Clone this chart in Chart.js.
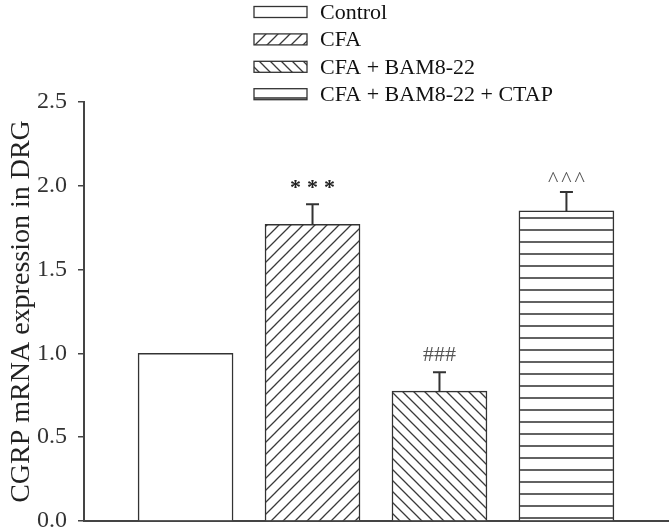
<!DOCTYPE html>
<html>
<head>
<meta charset="utf-8">
<script src="https://cdn.jsdelivr.net/npm/chart.js@4.4.0/dist/chart.umd.min.js"></script>
<style>
  html, body { margin: 0; padding: 0; background: #fff; }
</style>
</head>
<body>
<canvas id="chart" width="670" height="532"></canvas>
<script>
const groups = ['Control', 'CFA', 'CFA + BAM8-22', 'CFA + BAM8-22 + CTAP'];
const means = [1.0, 1.77, 0.775, 1.85];
const errors = [0, 0.12, 0.113, 0.113];
const marks = ['', '***', '###', '^^^'];
const hatches = ['none', 'fwd', 'back', 'horiz'];

const canvas = document.getElementById('chart');
const mainCtx = canvas.getContext('2d');

// build a fill pattern for each bar
function makePattern(kind) {
  if (kind === 'none') return '#ffffff';
  const s = kind === 'back' ? 11 : 12;
  const c = document.createElement('canvas');
  c.width = s;
  c.height = s;
  const g = c.getContext('2d');
  g.fillStyle = '#fff';
  g.fillRect(0, 0, s, s);
  g.strokeStyle = '#3a3a3a';
  g.lineWidth = 1.3;
  g.beginPath();
  if (kind === 'fwd') {
    g.moveTo(0, s); g.lineTo(s, 0);
    g.moveTo(-s / 2, s / 2); g.lineTo(s / 2, -s / 2);
    g.moveTo(s / 2, s * 1.5); g.lineTo(s * 1.5, s / 2);
  } else if (kind === 'back') {
    g.moveTo(0, 0); g.lineTo(s, s);
    g.moveTo(-s / 2, s / 2); g.lineTo(s / 2, s * 1.5);
    g.moveTo(s / 2, -s / 2); g.lineTo(s * 1.5, s / 2);
  } else {
    g.lineWidth = 1.6;
    g.moveTo(0, 2); g.lineTo(s, 2);
  }
  g.stroke();
  return mainCtx.createPattern(c, 'repeat');
}
const fills = hatches.map(makePattern);

const extras = {
  id: 'extras',
  afterDatasetsDraw(chart) {
    const { ctx, scales: { x, y } } = chart;
    ctx.save();
    means.forEach((v, i) => {
      const px = x.getPixelForValue(i + 1);
      const top = y.getPixelForValue(v + errors[i]);
      if (errors[i] > 0) {
        ctx.strokeStyle = '#333';
        ctx.lineWidth = 2;
        ctx.beginPath();
        ctx.moveTo(px, y.getPixelForValue(v));
        ctx.lineTo(px, top);
        ctx.moveTo(px - 6.5, top);
        ctx.lineTo(px + 6.5, top);
        ctx.stroke();
      }
      if (marks[i]) {
        ctx.textAlign = 'center';
        ctx.textBaseline = 'alphabetic';
        if (marks[i] === '***') {
          ctx.font = 'bold 22px "Liberation Serif"';
          ctx.fillStyle = '#222';
          ctx.letterSpacing = '6px';
          ctx.fillText(marks[i], px + 3, top - 10);
        } else if (marks[i] === '###') {
          ctx.font = '22px "Liberation Serif"';
          ctx.fillStyle = '#555';
          ctx.letterSpacing = '0px';
          ctx.fillText(marks[i], px, top - 11.5);
        } else {
          ctx.font = '22px "Liberation Serif"';
          ctx.fillStyle = '#555';
          ctx.letterSpacing = '3px';
          ctx.fillText(marks[i], px + 1.5, top - 6);
        }
      }
    });
    ctx.restore();
  },
  afterDraw(chart) {
    const { ctx } = chart;
    ctx.save();
    groups.forEach((name, i) => {
      const cy = 12 + i * 27.4;
      ctx.fillStyle = fills[i];
      ctx.fillRect(254, cy - 5.5, 53, 11);
      ctx.strokeStyle = '#333';
      ctx.lineWidth = 1.3;
      ctx.strokeRect(254, cy - 5.5, 53, 11);
      ctx.fillStyle = '#111';
      ctx.font = '22px "Liberation Serif"';
      ctx.textAlign = 'left';
      ctx.textBaseline = 'middle';
      ctx.fillText(name, 320, cy + 1);
    });
    ctx.restore();
  }
};

new Chart(canvas, {
  type: 'bar',
  data: {
    datasets: [{
      data: means.map((v, i) => ({ x: i + 1, y: v })),
      backgroundColor: fills,
      borderColor: '#333',
      borderWidth: 1.5,
      barThickness: 95
    }]
  },
  options: {
    responsive: false,
    animation: false,
    layout: { padding: { left: 0, top: 102, right: 2, bottom: 11 } },
    plugins: {
      legend: { display: false },
      tooltip: { enabled: false }
    },
    scales: {
      x: {
        type: 'linear',
        offset: false,
        min: 0.2,
        max: 4.8,
        afterFit: (scale) => { scale.height = 0; },
        grid: { display: false },
        ticks: { display: false },
        border: { display: true, color: '#444', width: 2 }
      },
      y: {
        min: 0,
        max: 2.5,
        afterFit: (scale) => {
          scale.width = 84;
          scale.paddingTop = 0;
          scale.paddingBottom = 0;
        },
        ticks: {
          stepSize: 0.5,
          color: '#333',
          padding: 11,
          font: { family: 'Liberation Serif', size: 24 },
          callback: (v) => v.toFixed(1)
        },
        grid: { display: true, drawOnChartArea: false, drawTicks: true, tickLength: 6, color: '#444', lineWidth: 1.5 },
        border: { display: true, color: '#444', width: 2 },
        title: {
          display: true,
          text: 'CGRP mRNA expression in DRG',
          color: '#222',
          font: { family: 'Liberation Serif', size: 28 },
          padding: { top: 5, bottom: 0 }
        }
      }
    }
  },
  plugins: [extras]
});
</script>
</body>
</html>
